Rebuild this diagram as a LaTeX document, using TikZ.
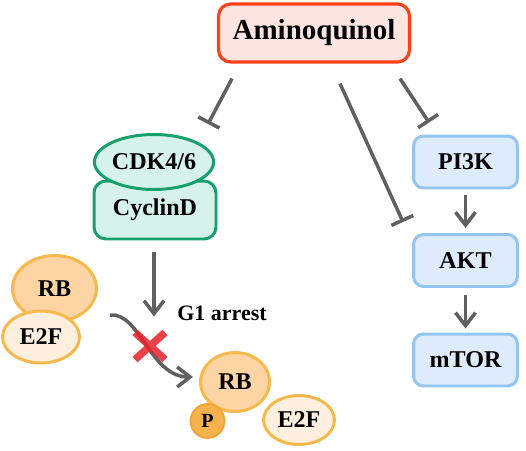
\documentclass[tikz,border=0pt]{standalone}
\usepackage{fontspec}
\setmainfont{Liberation Serif}
\usetikzlibrary{shapes.geometric,arrows.meta,calc}
\definecolor{amqline}{HTML}{FF4019}
\definecolor{amqfill}{HTML}{FDE6E1}
\definecolor{cdkline}{HTML}{16A06E}
\definecolor{cdkfill}{HTML}{D7F2EA}
\definecolor{pathline}{HTML}{92C5F2}
\definecolor{pathfill}{HTML}{DDEBFA}
\definecolor{rbline}{HTML}{F8B84B}
\definecolor{rbfill}{HTML}{FDD4A4}
\definecolor{efill}{HTML}{FEEFDF}
\definecolor{pfill}{HTML}{F6B24C}
\definecolor{pline}{HTML}{F2A232}
\definecolor{arrgray}{HTML}{606060}
\definecolor{nored}{HTML}{E8202A}
\begin{document}
\begin{tikzpicture}[x=.02cm,y=-.02cm,
  lbl/.style={font=\fontsize{13.7}{15}\selectfont\bfseries},
  pbox/.style={lbl,draw=pathline,fill=pathfill,line width=1.7pt,rounded corners=.2cm,
    minimum width=2.08cm,minimum height=1.04cm},
  blob/.style={lbl,ellipse,draw=rbline,line width=1.7pt,inner sep=0pt},
  inh/.style={arrgray,line width=2pt,-{Bar[width=.48cm,line width=2pt]}},
  act/.style={arrgray,line width=2pt,-{Straight Barb[length=.26cm,width=.4cm,line width=2pt]}}]
  \useasboundingbox (0,0) rectangle (526,450);
  \node[lbl,draw=amqline,fill=amqfill,line width=1.8pt,rounded corners=.24cm,
    minimum width=3.82cm,minimum height=1.16cm,font=\fontsize{16.5}{18}\selectfont\bfseries]
    (amq) at (314,33) {Aminoquinol};
  \node[lbl,draw=cdkline,fill=cdkfill,line width=1.7pt,rounded corners=.24cm,
    minimum width=2.44cm,minimum height=1.16cm] (cyc) at (155,210) {\raisebox{-3pt}{CyclinD}};
  \node[lbl,ellipse,draw=cdkline,fill=cdkfill,line width=1.7pt,inner sep=0pt,
    minimum width=2.06cm,minimum height=1.1cm] (cdk) at (154,162) {CDK4/6};
  \node[pbox] (pi3k) at (465.5,162) {PI3K};
  \node[pbox] (akt) at (465.5,260.5) {AKT};
  \node[pbox] (mtor) at (465.5,360) {mTOR};
  \node[blob,fill=rbfill,minimum width=1.68cm,minimum height=1.32cm] (rba) at (54.5,288.5) {RB};
  \node[blob,fill=efill,minimum width=1.54cm,minimum height=1.04cm] (efa) at (41,337) {E2F};
  \node[blob,fill=rbfill,minimum width=1.38cm,minimum height=1.18cm] (rbb) at (235,382) {RB};
  \node[blob,fill=efill,minimum width=1.42cm,minimum height=0.98cm] (efb) at (299,420) {E2F};
  \node[lbl,circle,draw=pline,fill=pfill,line width=1pt,inner sep=0pt,minimum size=.68cm,
    font=\fontsize{11.4}{12}\selectfont\bfseries] (p) at (207.5,421) {P};
  \node[lbl,font=\fontsize{12.5}{14}\selectfont\bfseries] (g1) at (222,313) {G1 arrest};
  \draw[inh] ($(amq.south)+(-82,15)$) -- ($(cdk.north)+(54,-9)$);
  \draw[inh] ($(amq.south)+(26,20)$) -- ($(akt.north west)+(-9,-11)$);
  \draw[inh] ($(amq.south)+(86,15)$) -- ($(pi3k.north west)+(17,-12)$);
  \draw[act,shorten <=.12cm,shorten >=.1cm] (pi3k) -- (akt);
  \draw[act,shorten <=.14cm,shorten >=.08cm] (akt) -- (mtor);
  \draw[act] ($(cyc.south)+(-1,12)$) -- ($(cyc.south)+(-1,76)$);
  \coordinate (cs) at (110,315);
  \coordinate (ce) at (193,377);
  \draw[act] (cs) .. controls (140,312) and (150,377) .. (ce);
  \coordinate (blk) at (150,346);
  \draw[nored,line width=.15cm,opacity=.85] (blk) +(-15,-13.5) -- +(15,13.5) (blk) +(-15,13.5) -- +(15,-13.5);
\end{tikzpicture}
\end{document}
